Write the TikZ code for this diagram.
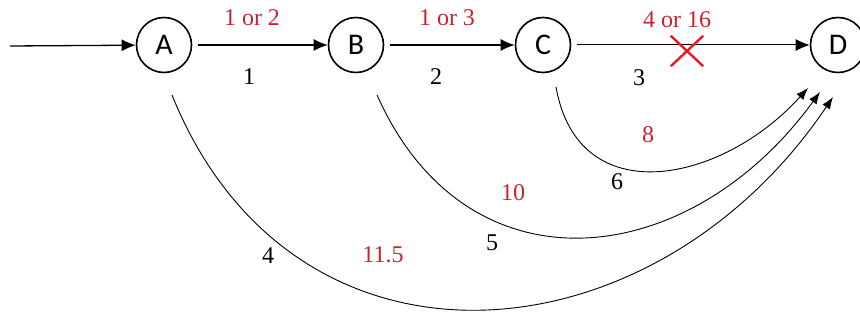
\documentclass[tikz,border=0pt]{standalone}
\usepackage{fontspec}
\setmainfont{Liberation Serif}
\newfontfamily\statefont{Carlito}
\usetikzlibrary{arrows.meta,shapes.misc}
\pgfdeclarelayer{edgelayer}
\pgfdeclarelayer{nodelayer}
\pgfsetlayers{edgelayer,nodelayer,main}
\definecolor{costred}{RGB}{200,35,50}
\definecolor{crossred}{RGB}{235,25,35}
\tikzstyle{state}=[circle, draw=black, fill=white, line width=1.6pt, minimum size=55pt, inner sep=0pt, font=\statefont\fontsize{30}{30}\selectfont]
\tikzstyle{edge}=[draw=black, line width=1.3pt, -{Latex[length=14pt,width=12pt]}]
\tikzstyle{arc}=[draw=black, line width=0.9pt, -{Latex[length=12pt,width=9pt]}]
\tikzstyle{cost}=[text=costred, inner sep=0pt, font=\fontsize{24}{24}\selectfont]
\tikzstyle{num}=[text=black, inner sep=0pt, font=\fontsize{24}{24}\selectfont]

\begin{document}
\begin{tikzpicture}[x=1pt, y=1pt]
				\useasboundingbox (0, 0) rectangle (860, -320);
				\begin{pgfonlayer}{nodelayer}
					\node [style=state] (A) at (164, -45) {A};
					\node [style=state] (B) at (356, -45) {B};
					\node [style=state] (C) at (543, -45) {C};
					\node [style=state] (D) at (838, -45) {D};
					\node [style=cost] (ab) at (252, -18) {1 or 2};
					\node [style=cost] (bc) at (447, -18) {1 or 3};
					\node [style=cost] (cd) at (677, -20) {4 or 16};
					\node [style=num] (n1) at (249, -77) {1};
					\node [style=num] (n2) at (436, -77) {2};
					\node [style=num] (n3) at (639, -78) {3};
					\node [style=cost] (cd2) at (648, -135) {8};
					\node [style=num] (n6) at (617, -182) {6};
					\node [style=cost] (bd) at (513, -193) {10};
					\node [style=num] (n5) at (492, -243) {5};
					\node [style=num] (n4) at (268, -256) {4};
					\node [style=cost] (ad) at (383, -255) {11.5};
					\node [cross out, draw=crossred, line width=2.4pt, minimum width=30pt, minimum height=28pt, inner sep=0pt] (x) at (687, -51) {};
				\end{pgfonlayer}
				\begin{pgfonlayer}{edgelayer}
					\coordinate (start) at (10, -46);
					\coordinate (a0) at (172, -95);
					\coordinate (b0) at (377, -95);
					\coordinate (c0) at (556, -87);
					\coordinate (d1) at (808, -88);
					\coordinate (d2) at (820, -92);
					\coordinate (d3) at (833, -97);
					\draw [style=edge] (start) to (A);
					\draw [style=edge, shorten <=6pt] (A) to (B);
					\draw [style=edge, shorten <=6pt] (B) to (C);
					\draw [style=edge, line width=1pt, shorten <=6pt] (C) to (D);
					\draw [style=arc] (c0) to [out=-80, in=-132, looseness=1.3] (d1);
					\draw [style=arc] (b0) to [out=-66, in=-126, looseness=1.28] (d2);
					\draw [style=arc] (a0) to [out=-68, in=-124, looseness=1.25] (d3);
				\end{pgfonlayer}
			\end{tikzpicture}
\end{document}
